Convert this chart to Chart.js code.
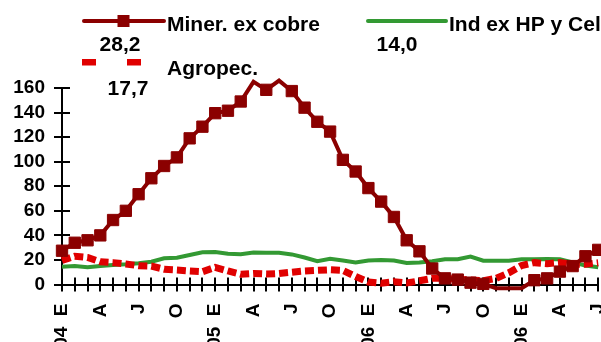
<!DOCTYPE html>
<html>
<head>
<meta charset="utf-8">
<script src="https://cdn.jsdelivr.net/npm/chart.js@4.4.0/dist/chart.umd.min.js"></script>
<style>
  html, body { margin: 0; padding: 0; background: #fff; overflow: hidden; }
  #contenedor { width: 640px; height: 342px; }
</style>
</head>
<body>
<div id="contenedor"><canvas id="grafico" width="640" height="342"></canvas></div>
<script>
// Meses (ene 2004 - jul 2007) y etiquetas del eje
const meses = ['E', 'F', 'M', 'A', 'M', 'J', 'J', 'A', 'S', 'O', 'N', 'D'];
const anios = ['04', '05', '06', '06'];
const mesesConEtiqueta = [0, 3, 6, 9];

const nombres = ['Miner. ex cobre', 'Agropec.', 'Ind ex HP y Cel'];

const mineria = [27.5, 34, 36, 40, 52.5, 60, 73.5, 86.5, 96.5, 103.5, 119, 128.5,
  139.5, 141.5, 149, 165, 158.5, 166, 157.5, 144, 132.5, 124.5, 101.5, 92,
  78.5, 67.5, 55, 36, 27, 13, 5, 4, 1.5, 0.5, -3, -3,
  -3, 3.5, 5, 10.5, 15, 23, 28.2];
const agropecuario = [19.5, 23, 22, 18.5, 17.8, 16.7, 15.3, 15, 12.4, 11.8, 11, 10.4,
  14, 11, 8.3, 9, 8.5, 9, 10, 11, 11.5, 12, 11.5, 6.5,
  2, 1, 2.3, 1.2, 3, 5, 5, 4.2, 3.7, 3.1, 5, 9.5,
  15.5, 17.8, 17, 17.8, 16.5, 16.5, 17.7];
const industria = [14.5, 15, 14, 15, 15.9, 16.4, 17.3, 18.6, 21.3, 21.8, 24, 26.3,
  26.5, 25, 24.7, 26, 25.8, 25.8, 24.5, 22, 19, 21, 19.5, 18,
  19.5, 20, 19.5, 17.5, 18, 19, 20.5, 20.5, 22.8, 19.4, 19.4, 19.4,
  20.5, 20.5, 20.8, 20.5, 18, 15.5, 14.0];

const yMin = 0;
const yMax = 160;
const yPaso = 20;

const categorias = mineria.map((v, i) => meses[i % 12] + ' ' + anios[Math.floor(i / 12)]);

function etiquetaEje(i) {
  const m = i % 12;
  if (!mesesConEtiqueta.includes(m)) return '';
  if (m === 0) return anios[Math.floor(i / 12)] + '  ' + meses[m];
  return meses[m];
}

const fuente = "'Liberation Sans', Arial, sans-serif";
const fmt = v => v.toFixed(1).replace('.', ',');

// marcas que cruzan los ejes (estilo Excel)
const marcasCruzadas = {
  id: 'marcasCruzadas',
  beforeDatasetsDraw(chart) {
    const ctx = chart.ctx;
    const xs = chart.scales.x;
    const ys = chart.scales.y;
    const area = chart.chartArea;
    ctx.save();
    ctx.strokeStyle = '#000';
    ctx.lineWidth = 2;
    ctx.beginPath();
    xs.ticks.forEach((t, i) => {
      const x = Math.round(xs.getPixelForTick(i));
      ctx.moveTo(x, area.bottom - 7);
      ctx.lineTo(x, area.bottom + 7);
    });
    ys.ticks.forEach(t => {
      const y = Math.round(ys.getPixelForValue(t.value));
      ctx.moveTo(area.left - 8, y);
      ctx.lineTo(area.left + 8, y);
    });
    ctx.stroke();
    ctx.restore();
  }
};

// leyenda con el último dato de cada serie
const leyenda = {
  id: 'leyenda',
  afterDraw(chart) {
    const ctx = chart.ctx;
    const ds = chart.data.datasets;
    ctx.save();
    ctx.fillStyle = '#000';
    ctx.font = 'bold 21px ' + fuente;
    ctx.textBaseline = 'alphabetic';

    // Minería
    ctx.strokeStyle = ds[0].borderColor;
    ctx.lineWidth = 4;
    ctx.lineCap = 'round';
    ctx.beginPath();
    ctx.moveTo(84, 21);
    ctx.lineTo(164, 21);
    ctx.stroke();
    ctx.fillStyle = ds[0].borderColor;
    ctx.fillRect(117.5, 15, 12, 12);
    ctx.fillStyle = '#000';
    ctx.textAlign = 'left';
    ctx.fillText(ds[0].label, 167, 31);
    ctx.textAlign = 'center';
    ctx.fillText(fmt(ds[0].data[ds[0].data.length - 1]), 120, 51);

    // Industria
    ctx.strokeStyle = ds[2].borderColor;
    ctx.beginPath();
    ctx.moveTo(368, 21);
    ctx.lineTo(446, 21);
    ctx.stroke();
    ctx.textAlign = 'left';
    ctx.fillText(ds[2].label, 449, 31);
    ctx.textAlign = 'center';
    ctx.fillText(fmt(ds[2].data[ds[2].data.length - 1]), 397, 51);

    // Agropecuario
    ctx.fillStyle = ds[1].borderColor;
    ctx.fillRect(82, 59, 14, 6.5);
    ctx.fillRect(127, 59, 14, 6.5);
    ctx.fillStyle = '#000';
    ctx.textAlign = 'left';
    ctx.fillText(ds[1].label, 167, 75);
    ctx.textAlign = 'center';
    ctx.fillText(fmt(ds[1].data[ds[1].data.length - 1]), 128, 95);
    ctx.restore();
  }
};

new Chart(document.getElementById('grafico'), {
  type: 'line',
  data: {
    labels: categorias,
    datasets: [
      {
        label: nombres[0],
        data: mineria,
        borderColor: '#8b0000',
        backgroundColor: '#8b0000',
        borderWidth: 4,
        pointStyle: 'rect',
        pointRadius: c => (c.raw > yMax || c.raw < yMin) ? 0 : 8,
        pointBorderWidth: 1,
        pointHoverRadius: 8,
        tension: 0,
        clip: false
      },
      {
        label: nombres[1],
        data: agropecuario,
        borderColor: '#e00000',
        backgroundColor: '#e00000',
        borderWidth: 7,
        borderDash: [9, 4],
        borderCapStyle: 'butt',
        pointRadius: 0,
        tension: 0,
        clip: false
      },
      {
        label: nombres[2],
        data: industria,
        borderColor: '#339933',
        backgroundColor: '#339933',
        borderWidth: 4,
        pointRadius: 0,
        tension: 0,
        clip: false
      }
    ]
  },
  options: {
    responsive: false,
    animation: false,
    events: [],
    layout: { padding: { top: 88, left: 0, right: 36.2, bottom: 0 } },
    plugins: {
      legend: { display: false },
      tooltip: { enabled: false }
    },
    scales: {
      x: {
        offset: false,
        grid: { display: false, drawTicks: false },
        border: { display: true, color: '#000', width: 2 },
        ticks: {
          autoSkip: false,
          minRotation: 90,
          maxRotation: 90,
          padding: 19,
          color: '#000',
          font: { family: fuente, size: 19, weight: 'bold' },
          callback: (v, i) => etiquetaEje(i)
        },
        afterFit: s => { s.height = 342 - 284.5; }
      },
      y: {
        min: yMin,
        max: yMax,
        grid: { display: false, drawTicks: false },
        border: { display: true, color: '#000', width: 2 },
        ticks: {
          autoSkip: false,
          stepSize: yPaso,
          padding: 17,
          color: '#000',
          font: { family: fuente, size: 19, weight: 'bold' }
        },
        afterFit: s => { s.width = 62; }
      }
    }
  },
  plugins: [marcasCruzadas, leyenda]
});
</script>
</body>
</html>
